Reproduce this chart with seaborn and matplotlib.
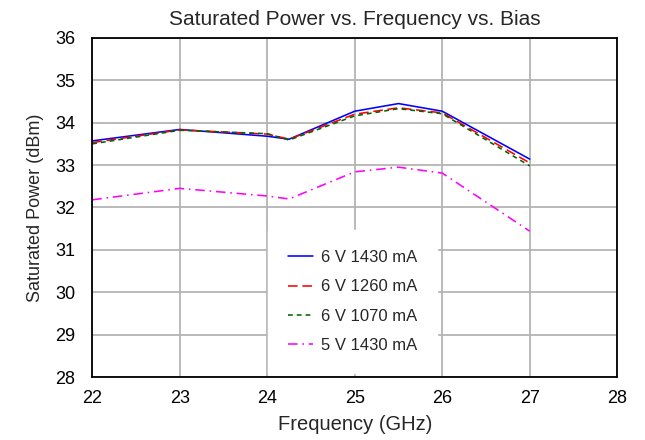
import numpy as np
import pandas as pd
import matplotlib
matplotlib.use("Agg")
import matplotlib.pyplot as plt
import seaborn as sns

# frequency points (GHz)
freq = [22, 23, 24, 24.25, 25, 25.5, 26, 27]

# saturated power (dBm) per bias condition
p_6v_1430 = [33.57, 33.84, 33.68, 33.61, 34.27, 34.45, 34.27, 33.14]
p_6v_1260 = [33.53, 33.83, 33.73, 33.61, 34.20, 34.35, 34.23, 33.05]
p_6v_1070 = [33.50, 33.82, 33.74, 33.59, 34.16, 34.33, 34.21, 32.98]
p_5v_1430 = [32.18, 32.45, 32.27, 32.20, 32.84, 32.95, 32.81, 31.44]

labels = ["6 V 1430 mA", "6 V 1260 mA", "6 V 1070 mA", "5 V 1430 mA"]
series = [p_6v_1430, p_6v_1260, p_6v_1070, p_5v_1430]

df = pd.concat([pd.DataFrame({"freq": freq, "power": s, "bias": lab})
                for lab, s in zip(labels, series)], ignore_index=True)

sns.set_theme(style="whitegrid")
plt.rcParams['font.family'] = ['Liberation Sans', 'DejaVu Sans']

fig = plt.figure(figsize=(6.45, 4.4), dpi=100)
ax = fig.add_axes([0.143, 0.143, 0.814, 0.771])

palette = {labels[0]: "#0000ff", labels[1]: "#ff0000",
           labels[2]: "#006400", labels[3]: "#ff00ff"}
dashes = {labels[0]: "", labels[1]: (6, 3), labels[2]: (3, 2.5),
          labels[3]: (6, 3, 1, 3)}

sns.lineplot(data=df, x="freq", y="power", hue="bias", style="bias",
             palette=palette, dashes=dashes, linewidth=1.15, ax=ax,
             sort=False)

ax.set_xlim(22, 28)
ax.set_ylim(28, 36)
ax.set_xticks(np.arange(22, 29, 1))
ax.set_yticks(np.arange(28, 37, 1))
ax.grid(True, color="#b4b4b4", linewidth=1.3)
for sp in ax.spines.values():
    sp.set_color("black")
    sp.set_linewidth(1.3)
ax.tick_params(axis="both", labelsize=13, length=0, colors="black")
ax.tick_params(axis="y", pad=12)
ax.tick_params(axis="x", pad=9)

ax.set_title("Saturated Power vs. Frequency vs. Bias", fontsize=15, pad=9)
ax.set_xlabel("Frequency (GHz)", fontsize=14.5, labelpad=6)
ax.set_ylabel("Saturated Power (dBm)", fontsize=13, labelpad=8)

leg = ax.legend(loc="upper left", bbox_to_anchor=(0.335, 0.433),
                frameon=True, fontsize=12, handlelength=1.5,
                handletextpad=0.45, labelspacing=0.85, borderpad=1.2,
                borderaxespad=0)
leg.get_frame().set_edgecolor("white")
leg.get_frame().set_facecolor("white")
leg.get_frame().set_alpha(1)
leg.get_frame().set_boxstyle("square", pad=0)

fig.savefig("out.png", dpi=100)
